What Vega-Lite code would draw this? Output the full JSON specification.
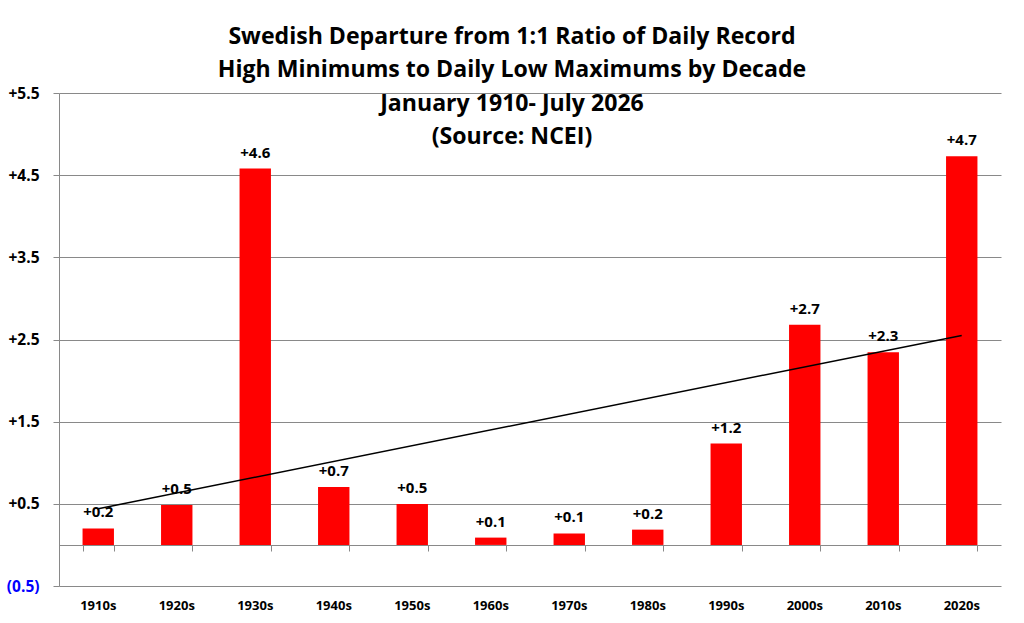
{
  "$schema": "https://vega.github.io/schema/vega-lite/v6.json",
  "width": 942,
  "height": 493,
  "autosize": {"type": "none"},
  "padding": {"left": 59, "top": 93, "right": 23, "bottom": 37},
  "background": "white",
  "config": {"view": {"stroke": null}, "font": "Open Sans"},
  "title": {
    "text": ["Swedish Departure from 1:1 Ratio of Daily Record", "High Minimums to Daily Low Maximums by Decade", "January 1910- July 2026", "(Source: NCEI)"],
    "font": "Open Sans",
    "fontSize": 23.1,
    "fontWeight": "bold",
    "color": "black",
    "anchor": "middle",
    "frame": "group",
    "lineHeight": 33.3,
    "baseline": "top",
    "dx": -18,
    "offset": -63
  },
  "data": {
    "values": [
      {"decade": "1910s", "v": 0.2},
      {"decade": "1920s", "v": 0.485},
      {"decade": "1930s", "v": 4.58},
      {"decade": "1940s", "v": 0.706},
      {"decade": "1950s", "v": 0.499},
      {"decade": "1960s", "v": 0.089},
      {"decade": "1970s", "v": 0.14},
      {"decade": "1980s", "v": 0.186},
      {"decade": "1990s", "v": 1.234},
      {"decade": "2000s", "v": 2.68},
      {"decade": "2010s", "v": 2.346},
      {"decade": "2020s", "v": 4.73}
    ]
  },
  "resolve": {"axis": {"x": "independent"}},
  "layer": [
    {
      "mark": {"type": "bar", "color": "#ff0000"},
      "encoding": {
        "x": {
          "field": "decade", "type": "nominal", "sort": null,
          "scale": {"domain": ["1910s","1920s","1930s","1940s","1950s","1960s","1970s","1980s","1990s","2000s","2010s","2020s"], "paddingInner": 0.6, "paddingOuter": 0.3},
          "axis": {"orient": "bottom", "title": null, "domain": false, "ticks": false, "labelAngle": 0, "labelPadding": 13, "labelFont": "Open Sans", "labelFontSize": 13, "labelFontWeight": "bold", "labelColor": "black"}
        },
        "y": {
          "field": "v", "type": "quantitative",
          "scale": {"domain": [-0.5, 5.5], "nice": false, "zero": false},
          "axis": {
            "title": null,
            "values": [-0.5, 0.5, 1.5, 2.5, 3.5, 4.5, 5.5],
            "labelExpr": "datum.value < 0 ? '(' + format(-datum.value, '.1f') + ')' : '+' + format(datum.value, '.1f')",
            "labelColor": {"condition": {"test": "datum.value < 0", "value": "#0000ff"}, "value": "black"},
            "labelFont": "Open Sans", "labelFontSize": 15.5, "labelFontWeight": "bold",
            "labelPadding": 14,
            "grid": true, "gridColor": "#898989", "gridWidth": 1,
            "domainColor": "#898989", "domainWidth": 1,
            "tickColor": "#898989", "tickSize": 6
          }
        }
      }
    },
    {
      "mark": {"type": "text", "baseline": "alphabetic", "dy": -11, "font": "Open Sans", "fontSize": 15, "fontWeight": "bold", "color": "black"},
      "encoding": {
        "x": {
          "field": "decade", "type": "nominal", "sort": null,
          "axis": {"orient": "bottom", "offset": -41, "title": null, "labels": false, "domain": true, "domainColor": "#898989", "ticks": true, "tickBand": "extent", "tickSize": 6, "tickColor": "#898989", "grid": false}
        },
        "y": {"field": "v", "type": "quantitative"},
        "text": {"field": "v", "type": "quantitative", "format": "+.1f"}
      }
    },
    {
      "data": {"values": [{"decade": "1910s", "t": 0.44}, {"decade": "2020s", "t": 2.55}]},
      "mark": {"type": "line", "color": "black", "strokeWidth": 1.5},
      "encoding": {
        "x": {"field": "decade", "type": "nominal", "sort": null, "axis": null},
        "y": {"field": "t", "type": "quantitative"}
      }
    }
  ]
}
